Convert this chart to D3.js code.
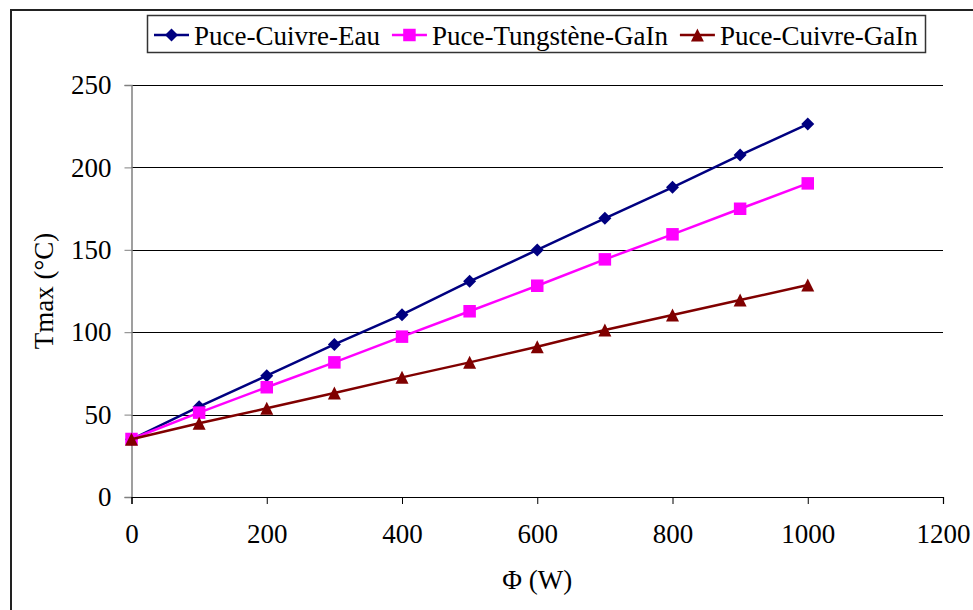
<!DOCTYPE html>
<html>
<head>
<meta charset="utf-8">
<script src="https://cdn.jsdelivr.net/npm/d3@7"></script>
</head>
<body style="margin:0;background:#fff">
<svg id="chart" width="973" height="610" style="display:block"></svg>
<script>
// ---- data ----
const phi = [0, 100, 200, 300, 400, 500, 600, 700, 800, 900, 1000];
const cuivreEau = [35, 54.8, 73.6, 92.6, 110.6, 130.9, 149.9, 169.1, 187.9, 207.5, 226.3];
const tungsteneGaIn = [35.2, 51.2, 66.6, 81.7, 97.3, 112.7, 128.2, 144.2, 159.4, 174.9, 190.3];
const cuivreGaIn = [35, 44.7, 53.8, 63.1, 72.6, 81.7, 91.2, 101.3, 110.4, 119.5, 128.6];
const seriesNames = ["Puce-Cuivre-Eau", "Puce-Tungstène-GaIn", "Puce-Cuivre-GaIn"];
const xTickValues = [0, 200, 400, 600, 800, 1000, 1200];
const yTickValues = [0, 50, 100, 150, 200, 250];
const xTitle = "Φ (W)";
const yTitle = "Tmax (°C)";

const series = [
  { name: seriesNames[0], values: cuivreEau, color: "#000080", marker: "diamond" },
  { name: seriesNames[1], values: tungsteneGaIn, color: "#FF00FF", marker: "square" },
  { name: seriesNames[2], values: cuivreGaIn, color: "#800000", marker: "triangle" }
];

const FONT_FAMILY = "Liberation Serif";
const FONT = "27px";
const svg = d3.select("#chart");
function styleText(sel) {
  return sel.style("font-family", FONT_FAMILY).style("font-size", FONT).style("fill", "#000");
}

// outer frame
svg.append("rect").attr("x", 11).attr("y", 10).attr("width", 1000).attr("height", 1000)
  .attr("fill", "none").attr("stroke", "#222").attr("stroke-width", 2);

const x = d3.scaleLinear().domain([0, 1200]).range([131.5, 943]);
const y = d3.scaleLinear().domain([0, 250]).range([497, 85]);

// gridlines
svg.append("g").selectAll("line").data(yTickValues.filter(v => v > 0)).join("line")
  .attr("x1", x(0)).attr("x2", x(1200))
  .attr("y1", d => Math.round(y(d)) + 0.5).attr("y2", d => Math.round(y(d)) + 0.5)
  .attr("stroke", "#000").attr("stroke-width", 1);

// y axis
const yAxis = svg.append("g").attr("transform", `translate(${x(0)},0)`)
  .call(d3.axisLeft(y).tickValues(yTickValues).tickSize(7).tickPadding(13).tickFormat(d3.format("d")));
yAxis.select(".domain").attr("stroke", "#808080").attr("stroke-width", 1.5);
yAxis.selectAll(".tick line").attr("stroke", "#808080");
styleText(yAxis.selectAll("text"));

// x axis
const xAxis = svg.append("g").attr("transform", `translate(0,${y(0)})`)
  .call(d3.axisBottom(x).tickValues(xTickValues).tickSize(7).tickPadding(20).tickFormat(d3.format("d")));
xAxis.select(".domain").attr("stroke", "#000").attr("stroke-width", 1.2);
xAxis.selectAll(".tick line").attr("stroke", "#000");
styleText(xAxis.selectAll("text"));

// axis titles
styleText(svg.append("text").attr("x", (x(0) + x(1200)) / 2).attr("y", 589)
  .attr("text-anchor", "middle").text(xTitle));
styleText(svg.append("text").attr("transform", `translate(53,${(y(0) + y(250)) / 2}) rotate(-90)`)
  .attr("text-anchor", "middle").text(yTitle));

// markers
function markerPath(type, s) {
  const h = s / 2;
  if (type === "diamond") return `M0,${-h}L${h},0L0,${h}L${-h},0Z`;
  if (type === "square") return `M${-h},${-h}H${h}V${h}H${-h}Z`;
  return `M0,${-h}L${h},${h}L${-h},${h}Z`;
}
const markerSize = { diamond: 13, square: 12.5, triangle: 13 };

const line = d3.line().x(d => x(d[0])).y(d => y(d[1]));
series.forEach(s => {
  const pts = phi.map((p, i) => [p, s.values[i]]);
  const g = svg.append("g");
  g.append("path").datum(pts).attr("d", line)
    .attr("fill", "none").attr("stroke", s.color).attr("stroke-width", 2.5);
  g.selectAll("path.m").data(pts).join("path").attr("class", "m")
    .attr("transform", d => `translate(${x(d[0])},${y(d[1])})`)
    .attr("d", markerPath(s.marker, markerSize[s.marker]))
    .attr("fill", s.color);
});

// legend
const legend = svg.append("g");
legend.append("rect").attr("x", 147.5).attr("y", 15.5).attr("width", 778).attr("height", 37)
  .attr("fill", "#fff").attr("stroke", "#333").attr("stroke-width", 1.5);
let lx = 154;
const ly = 35;
series.forEach(s => {
  const it = legend.append("g");
  it.append("line").attr("x1", lx).attr("x2", lx + 35).attr("y1", ly).attr("y2", ly)
    .attr("stroke", s.color).attr("stroke-width", 2.5);
  it.append("path").attr("transform", `translate(${lx + 17.5},${ly})`)
    .attr("d", markerPath(s.marker, markerSize[s.marker])).attr("fill", s.color);
  const t = styleText(it.append("text").attr("x", lx + 40).attr("y", ly + 9.5).text(s.name));
  lx = lx + 40 + t.node().getComputedTextLength() + 12;
});
</script>
</body>
</html>
